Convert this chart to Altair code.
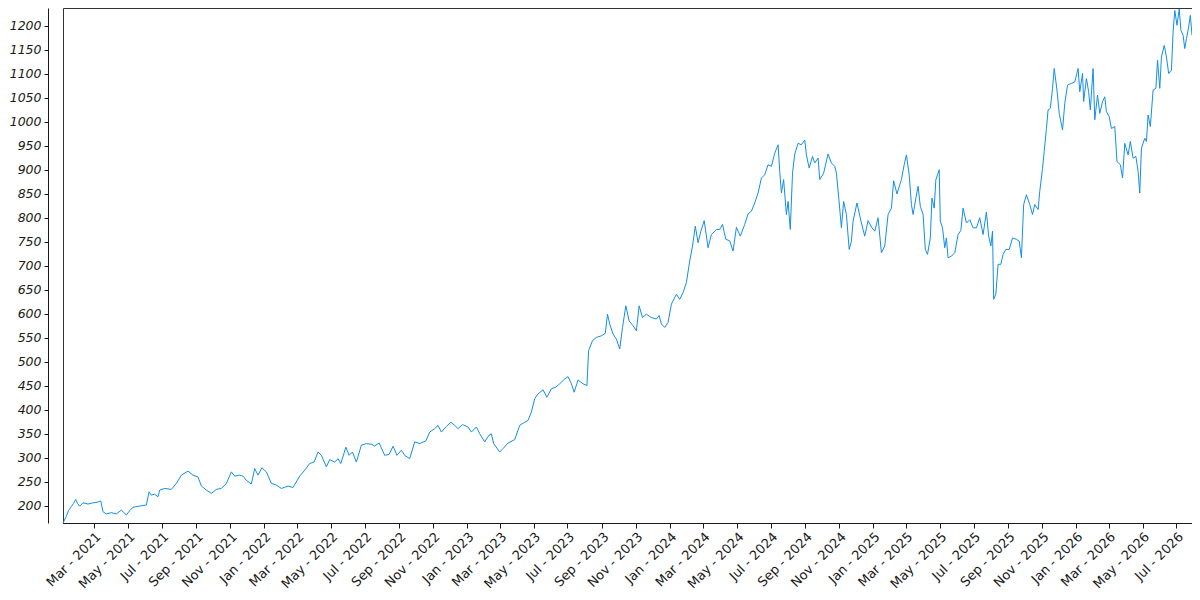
import altair as alt
import pandas as pd

start_date = "2021-01-04"

day_offsets = [
    0, 6, 10, 15, 19, 23, 26, 30, 36, 45, 54, 63, 68, 72, 78, 87, 96, 105, 114, 120,
    126, 138, 150, 155, 159, 165, 171, 174, 183, 195, 204, 213, 225, 234, 243, 249, 258, 267, 276, 285,
    294, 303, 309, 318, 324, 330, 339, 345, 351, 358, 366, 375, 384, 393, 405, 414, 426, 435, 444, 452,
    459, 465, 474, 480, 489, 495, 500, 506, 509, 515, 521, 528, 537, 546, 555, 561, 569, 579, 587, 594,
    601, 609, 615, 624, 633, 642, 653, 660, 669, 675, 681, 690, 698, 705, 711, 719, 729, 735, 744, 750,
    759, 765, 771, 775, 786, 792, 801, 813, 822, 831, 837, 843, 849, 855, 864, 871, 879, 887, 894, 903,
    909, 915, 920, 927, 936, 943, 946, 953, 960, 969, 976, 980, 984, 990, 996, 1002, 1007, 1013, 1019, 1026,
    1032, 1037, 1043, 1050, 1059, 1068, 1073, 1077, 1083, 1089, 1095, 1104, 1110, 1116, 1122, 1128, 1133, 1138, 1143, 1148,
    1154, 1161, 1167, 1176, 1182, 1187, 1193, 1200, 1206, 1212, 1219, 1227, 1233, 1239, 1245, 1251, 1257, 1263, 1269, 1275,
    1281, 1287, 1290, 1293, 1297, 1302, 1305, 1309, 1313, 1317, 1323, 1329, 1335, 1338, 1343, 1349, 1353, 1359, 1362, 1369,
    1377, 1383, 1389, 1392, 1397, 1401, 1405, 1410, 1415, 1419, 1422, 1429, 1437, 1443, 1449, 1456, 1461, 1467, 1473, 1479,
    1485, 1491, 1495, 1501, 1509, 1514, 1518, 1523, 1527, 1530, 1535, 1539, 1543, 1548, 1552, 1556, 1561, 1564, 1568, 1571,
    1577, 1579, 1583, 1587, 1590, 1593, 1599, 1605, 1611, 1616, 1620, 1626, 1632, 1638, 1644, 1650, 1656, 1662, 1666, 1670,
    1673, 1675, 1679, 1683, 1688, 1692, 1697, 1703, 1709, 1716, 1721, 1725, 1729, 1734, 1740, 1745, 1749, 1755, 1758, 1763,
    1766, 1770, 1773, 1777, 1781, 1784, 1789, 1793, 1799, 1803, 1808, 1815, 1821, 1827, 1830, 1835, 1837, 1842, 1846, 1849,
    1854, 1857, 1862, 1866, 1871, 1875, 1878, 1883, 1887, 1893, 1897, 1903, 1907, 1911, 1917, 1921, 1926, 1931, 1935, 1938,
    1941, 1947, 1950, 1953, 1957, 1962, 1967, 1970, 1974, 1977, 1982, 1986, 1990, 1995, 1998, 2001, 2005, 2009, 2012, 2016,
    2019, 2022, 2026, 2029, 2032,
]

prices = [
    164, 178, 190, 198, 205, 213, 205, 199, 206, 203.5, 206, 207.7, 210, 187.5, 183, 185.5, 183, 191, 180.7, 189.6,
    196.7, 199.4, 201.5, 229, 222, 224, 218.7, 232.6, 236, 234, 246.5, 263.7, 272, 263.7, 260, 241, 232.6, 225.7, 234, 236,
    246.5, 270.5, 261.6, 263.7, 261.6, 253, 245, 277.6, 263.7, 279, 270.5, 246.5, 243, 236, 241, 238, 261.6, 274, 288, 291,
    312, 305, 281, 296, 291, 298, 288, 310, 322, 305, 312, 291, 326, 329.5, 328, 324.5, 330.7, 305, 307, 324,
    305, 315.6, 305, 298, 333, 329.5, 335, 353.5, 360.6, 367.5, 353.5, 365, 374, 367.5, 360.6, 369, 364, 353.5, 364, 350,
    333, 344.6, 350, 329.5, 312, 319, 330.7, 337.8, 367.5, 374, 377.8, 395, 423, 433, 441.5, 426, 443.6, 447, 454, 464,
    469, 454, 436.5, 462, 454, 450.5, 523, 544, 550.7, 554, 559, 599, 578.5, 557.7, 547, 526.6, 571.4, 616.5, 585, 575,
    564.6, 616.5, 592, 599, 592, 589, 596, 578.5, 571.4, 582, 620, 640.7, 630, 644, 665, 710, 741, 782.5, 748, 772,
    794, 737.5, 765, 775.6, 775.6, 786, 755, 752, 730.6, 780, 761.7, 786, 808, 813.6, 830.8, 851.5, 882.6, 889.6, 910.5, 907,
    934.5, 952, 896.6, 851.5, 879.4, 806.7, 834, 775.6, 893, 932.5, 955, 952, 962, 931, 903.4, 927.7, 914, 924.4, 879.4, 893,
    933, 914, 907, 893, 830.8, 779, 834, 806.7, 734, 751, 793, 830.8, 789, 761.7, 794, 779, 772, 800, 727, 741,
    806.7, 820, 877, 849.6, 879.4, 910.5, 931, 889.6, 827.5, 806.7, 841, 865.5, 824, 806.7, 734, 723.7, 758, 841, 820, 879,
    900, 793, 779, 737.5, 758, 716.6, 720, 727, 765, 773.5, 820, 789, 796, 779, 779, 800, 765, 812, 761.7, 741,
    772, 630, 641, 703, 703, 723.7, 734, 734, 758, 755, 751.4, 716.6, 827.5, 848, 827.5, 806.7, 827.5, 817, 855, 903,
    938, 986, 1024.6, 1028, 1069.6, 1111, 1066, 1017.5, 983, 1038, 1076.5, 1080, 1083, 1111, 1062.6, 1100.6, 1042, 1090, 1062.6, 1024.6,
    1111, 1004, 1055.7, 1017.5, 1042, 1052, 1021, 1010.7, 986, 990, 917, 910.5, 883, 955, 931, 959, 924, 927.7, 896.6, 851.5,
    945, 965.6, 959, 1014, 990, 1066, 1069.6, 1128, 1069.6, 1135, 1159, 1135, 1100.6, 1107.5, 1187, 1232, 1201, 1235, 1190.6, 1180,
    1152.5, 1173, 1197.5, 1221.7, 1180,
]

y_tick_values = list(range(200, 1201, 50))

dates = (pd.Timestamp(start_date) + pd.to_timedelta(day_offsets, unit="D")).strftime("%Y-%m-%d")
df = pd.DataFrame({"date": list(dates), "price": prices})

axis_color = "#1a1a1a"

line = alt.Chart(df).mark_line(color="#148ee6", strokeWidth=1).encode(
    x=alt.X(
        "date:T",
        scale=alt.Scale(type="utc", nice=False),
        axis=alt.Axis(
            title=None,
            format="%b - %Y",
            tickCount={"interval": "month", "step": 2},
            labelAngle=-45,
            labelFontSize=13,
            labelFont="DejaVu Sans",
            labelColor=axis_color,
            labelOverlap=False,
            labelFlush=False,
            labelPadding=2,
            grid=False,
            domainColor=axis_color,
            tickColor=axis_color,
            tickSize=5,
        ),
    ),
    y=alt.Y(
        "price:Q",
        scale=alt.Scale(domain=[164, 1237], nice=False, zero=False),
        axis=alt.Axis(
            title=None,
            values=y_tick_values,
            format="d",
            offset=15,
            labelFontSize=12.5,
            labelFont="DejaVu Sans",
            labelFontStyle="italic",
            labelColor=axis_color,
            labelPadding=3,
            grid=False,
            domainColor=axis_color,
            tickColor=axis_color,
            tickSize=4,
        ),
    ),
)

chart = line.properties(
    width=1129,
    height=515,
    autosize=alt.AutoSizeParams(type="none"),
    padding={"left": 55, "top": 0, "right": 0, "bottom": 70},
).configure_view(
    stroke="#333333",
    strokeWidth=1,
)

chart.save("out.html", embed_options={"renderer": "svg", "actions": False})
